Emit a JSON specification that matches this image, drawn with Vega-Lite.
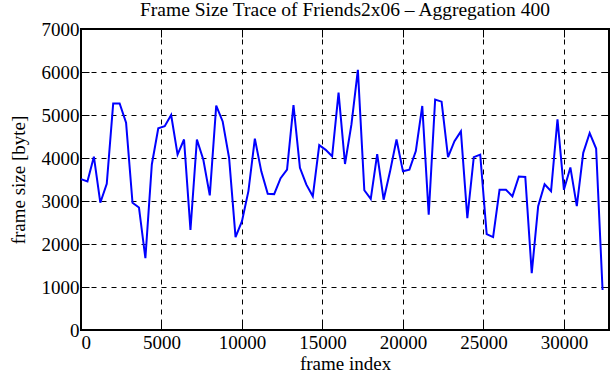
{
  "$schema": "https://vega.github.io/schema/vega-lite/v6.json",
  "autosize": "none",
  "width": 528,
  "height": 301,
  "padding": {"left": 81, "top": 29, "right": 2, "bottom": 50},
  "background": "white",
  "title": {"text": "Frame Size Trace of Friends2x06 – Aggregation 400", "font": "Liberation Serif", "fontSize": 19.5, "fontWeight": "normal", "color": "black", "offset": 0},
  "config": {
    "view": {"stroke": "black", "strokeWidth": 2},
    "axis": {"labelFont": "Liberation Serif", "titleFont": "Liberation Serif", "labelFontSize": 19, "titleFontSize": 19, "titleFontWeight": "normal", "labelColor": "black", "titleColor": "black", "domainColor": "black", "tickColor": "black", "gridColor": "black", "gridDash": [5, 5], "gridWidth": 1, "gridOpacity": 1}
  },
  "data": {"values": [
    {"frame": 0, "size": 3510}, {"frame": 400, "size": 3455}, {"frame": 800, "size": 4030}, {"frame": 1200, "size": 2960},
    {"frame": 1600, "size": 3400}, {"frame": 2000, "size": 5270}, {"frame": 2400, "size": 5270}, {"frame": 2800, "size": 4820},
    {"frame": 3200, "size": 2960}, {"frame": 3600, "size": 2850}, {"frame": 4000, "size": 1670}, {"frame": 4400, "size": 3850},
    {"frame": 4800, "size": 4690}, {"frame": 5200, "size": 4740}, {"frame": 5600, "size": 5000}, {"frame": 6000, "size": 4080},
    {"frame": 6400, "size": 4430}, {"frame": 6800, "size": 2330}, {"frame": 7200, "size": 4430}, {"frame": 7600, "size": 3960},
    {"frame": 8000, "size": 3130}, {"frame": 8400, "size": 5220}, {"frame": 8800, "size": 4850}, {"frame": 9200, "size": 4000},
    {"frame": 9600, "size": 2160}, {"frame": 10000, "size": 2530}, {"frame": 10400, "size": 3230}, {"frame": 10800, "size": 4450},
    {"frame": 11200, "size": 3690}, {"frame": 11600, "size": 3170}, {"frame": 12000, "size": 3160}, {"frame": 12400, "size": 3530},
    {"frame": 12800, "size": 3730}, {"frame": 13200, "size": 5230}, {"frame": 13600, "size": 3770}, {"frame": 14000, "size": 3380},
    {"frame": 14400, "size": 3110}, {"frame": 14800, "size": 4300}, {"frame": 15200, "size": 4190}, {"frame": 15600, "size": 4040},
    {"frame": 16000, "size": 5520}, {"frame": 16400, "size": 3860}, {"frame": 16800, "size": 4780}, {"frame": 17200, "size": 6050},
    {"frame": 17600, "size": 3250}, {"frame": 18000, "size": 3050}, {"frame": 18400, "size": 4090}, {"frame": 18800, "size": 3030},
    {"frame": 19200, "size": 3690}, {"frame": 19600, "size": 4430}, {"frame": 20000, "size": 3690}, {"frame": 20400, "size": 3730},
    {"frame": 20800, "size": 4160}, {"frame": 21200, "size": 5210}, {"frame": 21600, "size": 2680}, {"frame": 22000, "size": 5360},
    {"frame": 22400, "size": 5310}, {"frame": 22800, "size": 4020}, {"frame": 23200, "size": 4390}, {"frame": 23600, "size": 4620},
    {"frame": 24000, "size": 2600}, {"frame": 24400, "size": 4020}, {"frame": 24800, "size": 4080}, {"frame": 25200, "size": 2230},
    {"frame": 25600, "size": 2160}, {"frame": 26000, "size": 3260}, {"frame": 26400, "size": 3260}, {"frame": 26800, "size": 3110},
    {"frame": 27200, "size": 3570}, {"frame": 27600, "size": 3560}, {"frame": 28000, "size": 1320}, {"frame": 28400, "size": 2880},
    {"frame": 28800, "size": 3390}, {"frame": 29200, "size": 3230}, {"frame": 29600, "size": 4900}, {"frame": 30000, "size": 3260},
    {"frame": 30400, "size": 3780}, {"frame": 30800, "size": 2880}, {"frame": 31200, "size": 4120}, {"frame": 31600, "size": 4580},
    {"frame": 32000, "size": 4220}, {"frame": 32400, "size": 930}
  ]},
  "layer": [
    {
      "mark": {"type": "line", "color": "#0000ff", "strokeWidth": 2},
      "encoding": {
        "x": {"field": "frame", "type": "quantitative", "scale": {"domain": [0, 32800], "nice": false, "zero": false}, "axis": {"title": "frame index", "values": [0, 5000, 10000, 15000, 20000, 25000, 30000], "grid": true, "tickSize": -8, "domain": false, "labelPadding": 11, "titlePadding": 2, "format": "d"}},
        "y": {"field": "size", "type": "quantitative", "scale": {"domain": [0, 7000], "nice": false}, "axis": {"title": "frame size [byte]", "values": [0, 1000, 2000, 3000, 4000, 5000, 6000, 7000], "grid": true, "tickSize": -8, "domain": false, "labelPadding": 10, "titlePadding": 13, "format": "d"}}
      }
    },
    {
      "mark": {"type": "line", "opacity": 0},
      "encoding": {
        "x": {"field": "frame", "type": "quantitative", "scale": {"domain": [0, 32800], "nice": false, "zero": false}, "axis": {"orient": "top", "title": null, "labels": false, "values": [0, 5000, 10000, 15000, 20000, 25000, 30000], "grid": false, "tickSize": -8, "domain": false}},
        "y": {"field": "size", "type": "quantitative", "scale": {"domain": [0, 7000], "nice": false}, "axis": {"orient": "right", "title": null, "labels": false, "values": [0, 1000, 2000, 3000, 4000, 5000, 6000, 7000], "grid": false, "tickSize": -8, "domain": false}}
      }
    }
  ],
  "resolve": {"axis": {"x": "independent", "y": "independent"}}
}
